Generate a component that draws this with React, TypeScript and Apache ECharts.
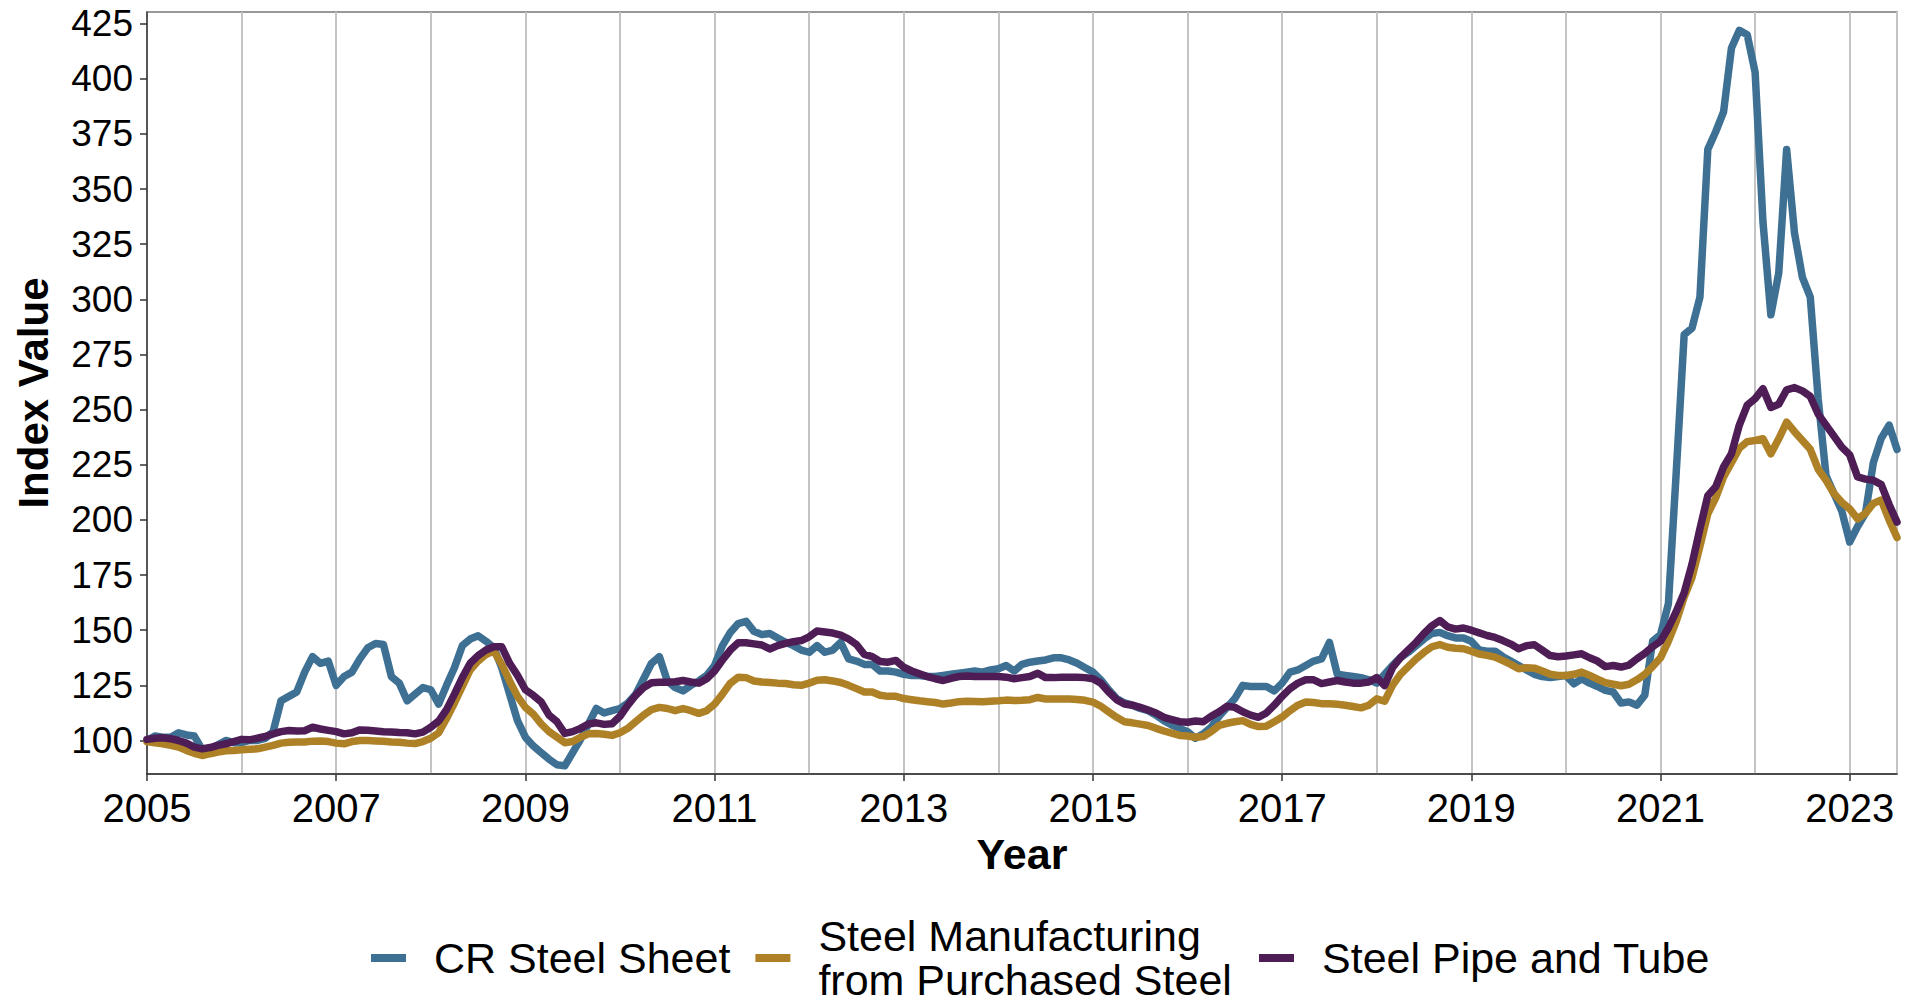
import React, { useEffect, useRef } from "react";
import * as echarts from "echarts";

const START_YEAR = 2005;

const seriesNames = [
  "CR Steel Sheet",
  "Steel Manufacturing\nfrom Purchased Steel",
  "Steel Pipe and Tube",
];

const seriesColors = ["#3D7093", "#AE8126", "#4E1D55"];

// Monthly index values, Jan 2005 .. Jul 2023
const crSteelSheet = [
  100, 102, 101.5, 101.5, 103.5, 102.5, 102, 96, 96, 98, 100, 99,
  99, 100, 100, 101, 104, 118, 120, 122, 131, 138, 135, 136,
  125, 129, 131, 137, 142, 144, 143.5, 129, 126, 118, 121, 124,
  123, 116.5, 125, 133, 143, 146, 147.5, 145, 142, 133, 121, 109,
  101.5, 97.5, 94.5, 91.5, 89, 88.5, 94.5, 100.5, 107.5, 114.5, 112.5, 113.5,
  114.5, 117, 121, 128, 135, 138, 127, 124, 122.5, 125, 127, 129.5,
  134, 143, 149, 153, 154, 149.5, 148, 148.5, 146.5, 144.5, 143, 141,
  140, 143, 140, 141, 144.5, 137, 136, 134.5, 134.5, 131.5, 131.5, 131,
  130, 129.5, 129.5, 129, 129, 129.5, 130, 130.5, 131, 131.5, 131, 132,
  132.5, 134, 131.5, 134.5, 135.5, 136, 136.5, 137.5, 137.5, 136.5, 135, 133,
  131, 127.5, 123, 119, 117, 116, 114.5, 113.5, 111.5, 109, 107, 105.5,
  104, 101, 103, 106, 111, 115, 119, 125, 124.5, 124.5, 124.5, 122.5,
  126, 131, 132, 134, 136, 137, 144.5, 130, 129.5, 129, 128.5, 127.5,
  126, 130, 134, 137.5, 140, 143, 146, 148.5, 149, 147.5, 146.5, 146.5,
  145, 141, 140.5, 140.5, 138, 136, 134, 132, 130, 129, 128.5, 129,
  129.5, 125.7, 128, 126, 124.5, 122.7, 122, 117, 117.5, 116, 120.5, 145,
  148, 162, 222, 284, 287, 301, 368, 376, 385, 414, 422, 420,
  403, 335, 293, 312, 368, 330, 310, 301, 255, 220, 212, 204,
  190, 197, 203, 226, 237, 243, 232,
];

const steelManufacturing = [
  99.5, 99, 98.5, 97.8, 97, 95.5, 94.2, 93.2, 94, 94.7, 95.3, 95.5,
  95.8, 96, 96.2, 97, 97.8, 98.8, 99.2, 99.3, 99.3, 99.7, 99.8, 99.5,
  98.8, 98.5, 99.5, 100, 100, 99.8, 99.6, 99.3, 99.2, 98.8, 98.6, 99.5,
  101, 103.5, 110, 117, 124.5, 132, 136, 139, 140.5, 134.5, 127, 120,
  115, 112, 107.5, 104, 101.5, 99, 99.5, 101.5, 103, 103.2, 102.8, 102.3,
  103.5, 105.5, 108.5, 111.5, 114, 115, 114.5, 113.5, 114.5, 113.5, 112.3, 113.5,
  116.5, 121, 126, 128.7, 128.5, 127, 126.5, 126.3, 126, 125.8, 125.3, 125,
  126, 127.3, 127.5, 127, 126.3, 125, 123.5, 122, 122, 120.5, 120, 120,
  119, 118.5, 118, 117.6, 117.2, 116.5, 117, 117.6, 117.8, 117.7, 117.6, 117.8,
  118, 118.3, 118.1, 118.2, 118.5, 119.5, 118.8, 118.8, 118.8, 118.8, 118.6, 118.2,
  117.4, 115.5, 113, 110.5, 108.5, 108, 107.4, 106.8, 105.5, 104.3, 103.3, 102.3,
  102, 101.5, 101.8, 104, 106.8, 107.8, 108.5, 109, 107.3, 106.3, 106.5, 108.5,
  110.6, 113.5, 116, 117.4, 117.2, 116.7, 116.6, 116.4, 116, 115.4, 114.8, 116,
  118.9, 117.8, 125, 130, 133.5, 137, 140, 142.5, 143.5, 142.3, 141.8, 141.6,
  140.5, 139.2, 138.6, 137.8, 136.2, 134.5, 132.5, 133, 132.8, 131.5, 130, 129.5,
  129.5, 130, 131, 129.5, 127.8, 126.2, 125.5, 124.8, 125.5, 127.5, 130, 133.5,
  137.5, 145, 154, 165, 174, 188, 202.8, 210, 219.5, 226, 232.5, 235.5,
  236, 236.8, 230, 236.8, 244.3, 240, 236, 232, 223, 218, 212, 208,
  205, 200.5, 203, 207.5, 209, 200, 192,
];

const steelPipeTube = [
  100.5, 101, 101.2, 100.8, 100, 98.8, 97, 96.2, 96.8, 97.8, 98.5, 99.5,
  100.5, 100.3, 101, 101.8, 103, 104, 104.5, 104.3, 104.4, 106, 105.2, 104.6,
  104, 103, 103.5, 104.8, 104.6, 104.3, 104, 103.8, 103.6, 103.5, 103, 103.8,
  106, 108.8, 114, 121, 128.5, 135, 138.5, 141, 142.5, 142.5, 135, 129.5,
  123, 120.5, 117.5, 111.5, 108.5, 103.2, 104, 105.5, 107.5, 108, 107.3, 107.6,
  111, 116, 120.5, 124, 126.2, 126.4, 126.4, 126.6, 127.2, 126.5, 126, 128,
  131.5, 136.5, 141, 144.3, 144.3, 143.8, 143.3, 141.5, 143, 144, 144.8, 145.3,
  147, 149.6, 149.2, 148.7, 147.8, 146, 143.5, 139, 138, 135.8, 135.5, 136.3,
  133.2, 131.5, 130.2, 129, 128, 127.2, 128.2, 129, 129.2, 129, 129, 129,
  129, 128.7, 128, 128.5, 129, 130.5, 128.5, 128.5, 128.7, 128.7, 128.7, 128.5,
  128, 126, 122, 118.5, 116.5, 116, 115, 113.8, 112.5, 110.5, 109.5, 108.5,
  108.3, 108.8, 108.5, 111, 113, 115.5, 115, 113, 111.5, 110.5, 112.5, 116,
  120, 123.5, 126, 127.5, 127.5, 125.8, 126.5, 127.2, 126.5, 126, 126, 126.5,
  128.5, 124.9, 133, 137.5, 141, 144.5, 148.5, 152, 154.4, 151.5, 150.5, 151,
  150, 148.8, 147.6, 146.7, 145.3, 143.7, 141.6, 143, 143.4, 141, 138.5, 138,
  138.3, 138.8, 139.3, 137.5, 136, 133.5, 134, 133.3, 134.2, 137, 139.5, 142.5,
  145, 151, 158.5, 167, 180, 196, 211, 215, 224, 230, 243, 252,
  255, 259.5, 251, 252.5, 259, 260, 258.5, 256, 248, 243, 238, 233,
  229.5, 219.5, 218.5, 218, 216, 207, 199,
];

const xTickLabels = [2005, 2007, 2009, 2011, 2013, 2015, 2017, 2019, 2021, 2023];
const yTickLabels = [100, 125, 150, 175, 200, 225, 250, 275, 300, 325, 350, 375, 400, 425];

const FONT = "'Liberation Sans', Arial, Helvetica, sans-serif";

function toPoints(values: number[]) {
  return values.map((v, i) => [START_YEAR + i / 12, v]);
}

const legendText = {
  fontFamily: FONT,
  fontSize: 43,
  lineHeight: 44,
  color: "#000000",
  padding: [0, 0, 0, 23],
};

export default function App() {
  const ref = useRef<HTMLDivElement>(null);

  useEffect(() => {
    if (!ref.current) return;
    const chart = echarts.init(ref.current, undefined, { renderer: "svg" });
    const allSeries = [crSteelSheet, steelManufacturing, steelPipeTube];
    const legendItem = (i: number) => ({ name: seriesNames[i], itemStyle: { color: seriesColors[i] } });
    chart.setOption({
      animation: false,
      backgroundColor: "#ffffff",
      textStyle: { fontFamily: FONT },
      grid: {
        left: 147,
        right: 10,
        top: 12,
        bottom: 231,
        show: true,
        borderColor: "#333333",
        borderWidth: 1.2,
        backgroundColor: "transparent",
      },
      legend: [
        {
          left: 371,
          top: 914,
          padding: 0,
          itemWidth: 35,
          itemHeight: 8,
          itemGap: 25,
          icon: "rect",
          selectedMode: false,
          data: [legendItem(0), legendItem(1)],
          textStyle: legendText,
        },
        {
          left: 1259,
          top: 936,
          padding: 0,
          itemWidth: 35,
          itemHeight: 8,
          itemGap: 25,
          icon: "rect",
          selectedMode: false,
          data: [legendItem(2)],
          textStyle: legendText,
        },
      ],
      xAxis: [
        {
          type: "value",
          position: "top",
          min: 2005,
          max: 2023.5,
          interval: 1,
          axisLine: { show: false },
          axisTick: { show: false },
          axisLabel: { show: false },
          splitLine: { show: true, lineStyle: { color: "#C4C4C4", width: 2 } },
        },
        {
          type: "value",
          position: "bottom",
          min: 2005,
          max: 2023.5,
          name: "Year",
          nameLocation: "middle",
          nameGap: 57,
          nameTextStyle: { fontFamily: FONT, fontSize: 43, fontWeight: "bold", color: "#000" },
          axisLine: { show: true, onZero: false, lineStyle: { color: "#333333", width: 1.5 } },
          axisTick: {
            show: true,
            length: 7,
            customValues: xTickLabels,
            lineStyle: { color: "#333333", width: 1.5 },
          },
          axisLabel: {
            customValues: xTickLabels,
            fontFamily: FONT,
            fontSize: 40,
            color: "#000000",
            margin: 14,
            formatter: (v: number) => String(Math.round(v)),
          },
          splitLine: { show: false },
        },
      ],
      yAxis: {
        type: "value",
        min: 84.8,
        max: 430.3,
        name: "Index Value",
        nameLocation: "middle",
        nameGap: 93,
        nameTextStyle: { fontFamily: FONT, fontSize: 42, fontWeight: "bold", color: "#000" },
        axisLine: { show: true, onZero: false, lineStyle: { color: "#333333", width: 1.5 } },
        axisTick: {
          show: true,
          length: 7,
          customValues: yTickLabels,
          lineStyle: { color: "#333333", width: 1.5 },
        },
        axisLabel: {
          customValues: yTickLabels,
          fontFamily: FONT,
          fontSize: 37,
          color: "#000000",
          margin: 14,
        },
        splitLine: { show: false },
      },
      series: allSeries.map((vals, i) => ({
        name: seriesNames[i],
        type: "line",
        xAxisIndex: 1,
        data: toPoints(vals),
        showSymbol: false,
        symbol: "none",
        smooth: false,
        color: seriesColors[i],
        lineStyle: { color: seriesColors[i], width: 7.5, join: "round", cap: "round" },
        emphasis: { disabled: true },
        z: 2 + i,
      })),
    });
    return () => chart.dispose();
  }, []);

  return (
    <div
      ref={ref}
      style={{ position: "fixed", left: 0, top: 0, width: "1907px", height: "1005px", background: "#fff" }}
    />
  );
}
